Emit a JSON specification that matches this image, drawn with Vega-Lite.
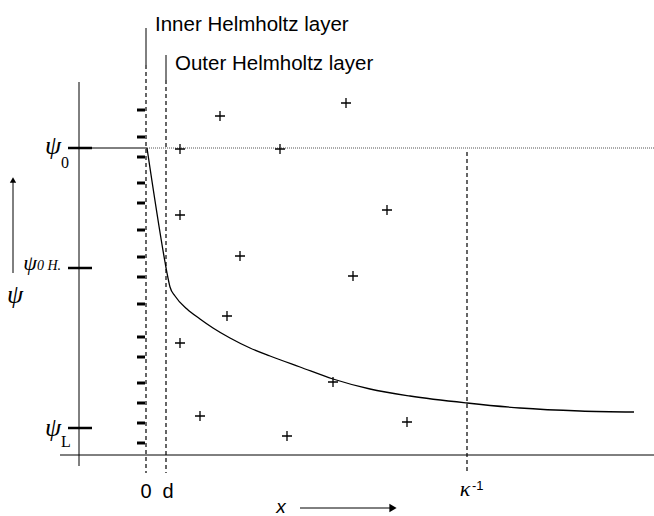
{
  "$schema": "https://vega.github.io/schema/vega-lite/v6.json",
  "width": 654,
  "height": 516,
  "autosize": "none",
  "padding": 0,
  "background": "white",
  "config": {"view": {"stroke": null}},
  "datasets": {
    "thin": [
      {"x": 79, "y": 82, "x2": 79, "y2": 466},
      {"x": 60, "y": 455, "x2": 654, "y2": 455},
      {"x": 92, "y": 148, "x2": 147, "y2": 148},
      {"x": 146, "y": 28, "x2": 146, "y2": 65},
      {"x": 166, "y": 55, "x2": 166, "y2": 80},
      {"x": 13, "y": 273, "x2": 13, "y2": 182},
      {"x": 300, "y": 508, "x2": 390, "y2": 508}
    ],
    "dashed": [
      {"x": 146, "y": 65, "x2": 146, "y2": 473},
      {"x": 166, "y": 80, "x2": 166, "y2": 473},
      {"x": 467, "y": 152, "x2": 467, "y2": 473}
    ],
    "dotted": [{"x": 147, "y": 148, "x2": 654, "y2": 148}],
    "ticks": [
      {"x": 68, "y": 148, "x2": 92, "y2": 148},
      {"x": 68, "y": 268, "x2": 92, "y2": 268},
      {"x": 68, "y": 428, "x2": 92, "y2": 428}
    ],
    "minus": [
      {"y": 110}, {"y": 137}, {"y": 157}, {"y": 183}, {"y": 203}, {"y": 230},
      {"y": 257}, {"y": 277}, {"y": 304}, {"y": 337}, {"y": 357}, {"y": 383},
      {"y": 403}, {"y": 423}, {"y": 443}
    ],
    "curve": [
      {"i": 0, "x": 147, "y": 148}, {"i": 1, "x": 165, "y": 262},
      {"i": 2, "x": 167, "y": 273}, {"i": 3, "x": 170, "y": 287},
      {"i": 4, "x": 175, "y": 296}, {"i": 5, "x": 187, "y": 309},
      {"i": 6, "x": 200, "y": 319}, {"i": 7, "x": 213, "y": 328},
      {"i": 8, "x": 230, "y": 338}, {"i": 9, "x": 250, "y": 348},
      {"i": 10, "x": 270, "y": 356}, {"i": 11, "x": 300, "y": 367},
      {"i": 12, "x": 333, "y": 379}, {"i": 13, "x": 370, "y": 389},
      {"i": 14, "x": 410, "y": 396}, {"i": 15, "x": 467, "y": 403},
      {"i": 16, "x": 520, "y": 408}, {"i": 17, "x": 580, "y": 411},
      {"i": 18, "x": 634, "y": 412}
    ],
    "plus": [
      {"x": 220, "y": 116}, {"x": 346, "y": 103}, {"x": 180, "y": 149},
      {"x": 280, "y": 149}, {"x": 180, "y": 215}, {"x": 387, "y": 210},
      {"x": 240, "y": 256}, {"x": 353, "y": 276}, {"x": 227, "y": 316},
      {"x": 180, "y": 343}, {"x": 333, "y": 382}, {"x": 200, "y": 416},
      {"x": 407, "y": 422}, {"x": 287, "y": 436}
    ],
    "sansLeft": [
      {"x": 155, "y": 31, "t": "Inner Helmholtz layer"},
      {"x": 175, "y": 70, "t": "Outer Helmholtz layer"}
    ],
    "sansCenter": [
      {"x": 146, "y": 498, "t": "0"},
      {"x": 168, "y": 498, "t": "d"}
    ],
    "psi": [
      {"x": 53, "y": 154, "t": "ψ"},
      {"x": 53, "y": 436, "t": "ψ"},
      {"x": 15, "y": 303, "t": "ψ"}
    ],
    "psiSmall": [{"x": 30, "y": 270, "t": "ψ"}],
    "subs": [
      {"x": 65, "y": 168, "t": "0"},
      {"x": 66, "y": 447, "t": "L"}
    ],
    "subOH": [{"x": 37, "y": 270, "t": "0 H."}],
    "kappa": [{"x": 465, "y": 496, "t": "κ"}],
    "kappaSup": [{"x": 472, "y": 490, "t": "-1"}],
    "xlab": [{"x": 281, "y": 513, "t": "x"}],
    "headUp": [{"x": 13, "y": 180}],
    "headRight": [{"x": 393, "y": 508}]
  },
  "layer": [
    {
      "data": {"name": "thin"},
      "mark": {"type": "rule", "color": "black", "strokeWidth": 1},
      "encoding": {
        "x": {"field": "x", "type": "quantitative", "scale": {"domain": [0, 654], "nice": false, "zero": false}, "axis": null},
        "y": {"field": "y", "type": "quantitative", "scale": {"domain": [0, 516], "nice": false, "zero": false, "reverse": true}, "axis": null},
        "x2": {"field": "x2"},
        "y2": {"field": "y2"}
      }
    },
    {
      "data": {"name": "dashed"},
      "mark": {"type": "rule", "color": "black", "strokeWidth": 1.2, "strokeDash": [4, 3]},
      "encoding": {
        "x": {"field": "x", "type": "quantitative"},
        "y": {"field": "y", "type": "quantitative"},
        "x2": {"field": "x2"},
        "y2": {"field": "y2"}
      }
    },
    {
      "data": {"name": "dotted"},
      "mark": {"type": "rule", "color": "#555555", "strokeWidth": 1, "strokeDash": [1, 1]},
      "encoding": {
        "x": {"field": "x", "type": "quantitative"},
        "y": {"field": "y", "type": "quantitative"},
        "x2": {"field": "x2"},
        "y2": {"field": "y2"}
      }
    },
    {
      "data": {"name": "ticks"},
      "mark": {"type": "rule", "color": "black", "strokeWidth": 2.5},
      "encoding": {
        "x": {"field": "x", "type": "quantitative"},
        "y": {"field": "y", "type": "quantitative"},
        "x2": {"field": "x2"},
        "y2": {"field": "y2"}
      }
    },
    {
      "data": {"name": "minus"},
      "mark": {"type": "tick", "orient": "horizontal", "color": "black", "thickness": 3, "size": 8, "opacity": 1},
      "encoding": {
        "x": {"datum": 141, "type": "quantitative"},
        "y": {"field": "y", "type": "quantitative"}
      }
    },
    {
      "data": {"name": "curve"},
      "mark": {"type": "line", "color": "black", "strokeWidth": 1.3, "interpolate": "monotone"},
      "encoding": {
        "x": {"field": "x", "type": "quantitative"},
        "y": {"field": "y", "type": "quantitative"},
        "order": {"field": "i"}
      }
    },
    {
      "data": {"name": "plus"},
      "mark": {"type": "point", "shape": "M-1,0H1M0,-1V1", "filled": false, "color": "black", "strokeWidth": 1.3, "size": 100, "opacity": 1},
      "encoding": {
        "x": {"field": "x", "type": "quantitative"},
        "y": {"field": "y", "type": "quantitative"}
      }
    },
    {
      "data": {"name": "sansLeft"},
      "mark": {"type": "text", "color": "black", "font": "Liberation Sans", "fontSize": 20.5, "baseline": "alphabetic", "align": "left"},
      "encoding": {
        "x": {"field": "x", "type": "quantitative"},
        "y": {"field": "y", "type": "quantitative"},
        "text": {"field": "t"}
      }
    },
    {
      "data": {"name": "sansCenter"},
      "mark": {"type": "text", "color": "black", "font": "Liberation Sans", "fontSize": 20, "baseline": "alphabetic", "align": "center"},
      "encoding": {
        "x": {"field": "x", "type": "quantitative"},
        "y": {"field": "y", "type": "quantitative"},
        "text": {"field": "t"}
      }
    },
    {
      "data": {"name": "psi"},
      "mark": {"type": "text", "color": "black", "font": "Liberation Serif", "fontStyle": "italic", "fontSize": 26, "baseline": "alphabetic", "align": "center"},
      "encoding": {
        "x": {"field": "x", "type": "quantitative"},
        "y": {"field": "y", "type": "quantitative"},
        "text": {"field": "t"}
      }
    },
    {
      "data": {"name": "psiSmall"},
      "mark": {"type": "text", "color": "black", "font": "Liberation Serif", "fontStyle": "italic", "fontSize": 22, "baseline": "alphabetic", "align": "center"},
      "encoding": {
        "x": {"field": "x", "type": "quantitative"},
        "y": {"field": "y", "type": "quantitative"},
        "text": {"field": "t"}
      }
    },
    {
      "data": {"name": "subs"},
      "mark": {"type": "text", "color": "black", "font": "Liberation Serif", "fontSize": 16, "baseline": "alphabetic", "align": "center"},
      "encoding": {
        "x": {"field": "x", "type": "quantitative"},
        "y": {"field": "y", "type": "quantitative"},
        "text": {"field": "t"}
      }
    },
    {
      "data": {"name": "subOH"},
      "mark": {"type": "text", "color": "black", "font": "Liberation Serif", "fontStyle": "italic", "fontSize": 14, "baseline": "alphabetic", "align": "left"},
      "encoding": {
        "x": {"field": "x", "type": "quantitative"},
        "y": {"field": "y", "type": "quantitative"},
        "text": {"field": "t"}
      }
    },
    {
      "data": {"name": "kappa"},
      "mark": {"type": "text", "color": "black", "font": "Liberation Serif", "fontStyle": "italic", "fontSize": 22, "baseline": "alphabetic", "align": "center"},
      "encoding": {
        "x": {"field": "x", "type": "quantitative"},
        "y": {"field": "y", "type": "quantitative"},
        "text": {"field": "t"}
      }
    },
    {
      "data": {"name": "kappaSup"},
      "mark": {"type": "text", "color": "black", "font": "Liberation Sans", "fontSize": 13, "baseline": "alphabetic", "align": "left"},
      "encoding": {
        "x": {"field": "x", "type": "quantitative"},
        "y": {"field": "y", "type": "quantitative"},
        "text": {"field": "t"}
      }
    },
    {
      "data": {"name": "xlab"},
      "mark": {"type": "text", "color": "black", "font": "Liberation Sans", "fontStyle": "italic", "fontSize": 19, "baseline": "alphabetic", "align": "center"},
      "encoding": {
        "x": {"field": "x", "type": "quantitative"},
        "y": {"field": "y", "type": "quantitative"},
        "text": {"field": "t"}
      }
    },
    {
      "data": {"name": "headUp"},
      "mark": {"type": "point", "shape": "triangle-up", "filled": true, "color": "black", "size": 40, "opacity": 1},
      "encoding": {
        "x": {"field": "x", "type": "quantitative"},
        "y": {"field": "y", "type": "quantitative"}
      }
    },
    {
      "data": {"name": "headRight"},
      "mark": {"type": "point", "shape": "triangle-right", "filled": true, "color": "black", "size": 70, "opacity": 1},
      "encoding": {
        "x": {"field": "x", "type": "quantitative"},
        "y": {"field": "y", "type": "quantitative"}
      }
    }
  ]
}
